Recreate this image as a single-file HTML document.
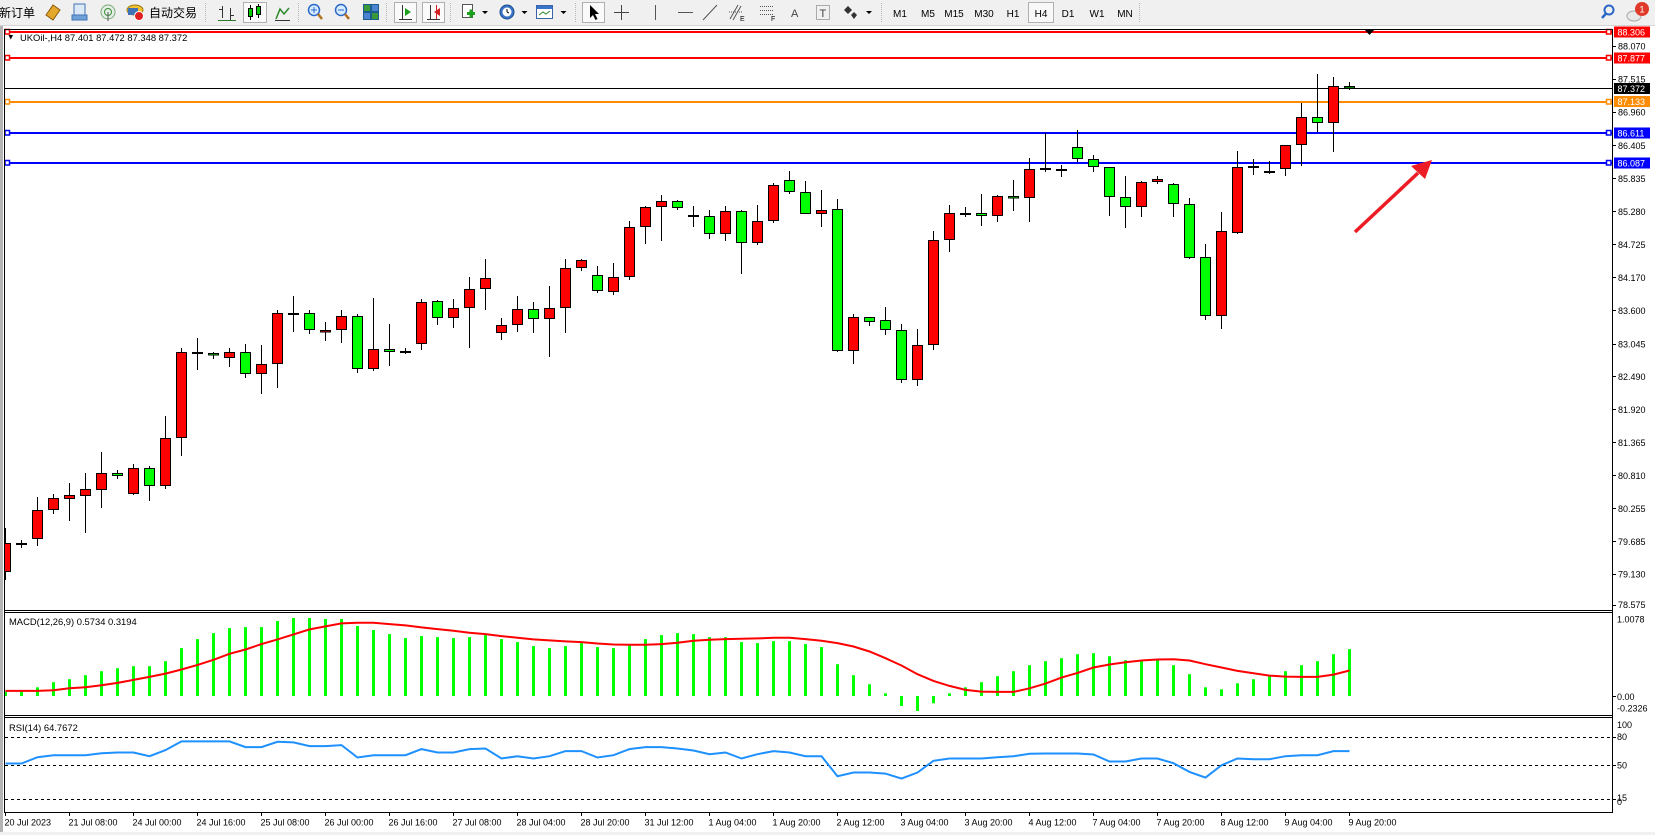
<!DOCTYPE html>
<html><head><meta charset="utf-8"><style>
html,body{margin:0;padding:0;background:#fff;overflow:hidden}
svg{display:block}
text{font-family:"Liberation Sans","Noto Sans CJK SC",sans-serif;font-size:9px;fill:#000}
.lbl{font-size:9.4px}
.w{stroke:#000;stroke-width:1}
.r{fill:#ff0000;stroke:#000;stroke-width:1}
.g{fill:#00ff00;stroke:#000;stroke-width:1}
.d{stroke:#000;stroke-width:2}
.tf{font-size:10px;text-anchor:middle}
.sep{stroke:#b8b8b8;stroke-width:1;stroke-dasharray:1 1}
</style></head><body>
<svg xmlns="http://www.w3.org/2000/svg" width="1655" height="835" viewBox="0 0 1655 835">
<defs><clipPath id="cp"><rect x="5" y="30" width="1607" height="580"/></clipPath></defs>
<rect width="1655" height="835" fill="#fff"/>
<!-- toolbar -->
<rect x="0" y="0" width="1655" height="25" fill="#f0f0f0"/>
<line x1="0" y1="25.5" x2="1655" y2="25.5" stroke="#d4d4d4"/>
<text x="-1" y="17" style="font-size:12px;font-family:'Noto Sans CJK SC',sans-serif">新订单</text>
<polygon points="46,15 53,5 60,10 53,20" fill="#e3a82a" stroke="#8a5a10" stroke-width="1"/>
<rect x="74" y="4" width="11" height="14" fill="#dce9f7" stroke="#3f73b5"/><rect x="72" y="15" width="15" height="5" fill="#6fa0d8" stroke="#3f73b5"/>
<circle cx="108" cy="12" r="7" fill="#e6efe6" stroke="#7aa87a"/><circle cx="108" cy="12" r="3.5" fill="none" stroke="#3b8d3b"/><line x1="108" y1="12" x2="108" y2="21" stroke="#555"/>
<ellipse cx="135" cy="10" rx="8" ry="5" fill="#f2c230" stroke="#9a7a10"/><rect x="128" y="8" width="10" height="7" fill="#3f73b5"/><circle cx="139" cy="16" r="4.5" fill="#e02020" stroke="#fff"/>
<text x="149" y="17" style="font-size:12px;font-family:'Noto Sans CJK SC',sans-serif">自动交易</text>
<line x1="205.5" y1="3" x2="205.5" y2="22" class="sep"/>
<g stroke="#333" stroke-width="1"><line x1="222.5" y1="6" x2="222.5" y2="18"/><line x1="219" y1="9.5" x2="222" y2="9.5"/><line x1="230.5" y1="8" x2="230.5" y2="20"/><line x1="231" y1="15.5" x2="234" y2="15.5"/><line x1="218" y1="20.5" x2="236" y2="20.5" stroke="#2a7a2a"/></g>
<rect x="243.5" y="2.5" width="23" height="20" fill="#fafafa" stroke="#b0b0b0"/>
<line x1="250.5" y1="5" x2="250.5" y2="20" stroke="#000"/><rect x="248.5" y="8.5" width="4" height="8" fill="#0c0" stroke="#000"/><line x1="258.5" y1="4" x2="258.5" y2="18" stroke="#000"/><rect x="256.5" y="6.5" width="4" height="8" fill="#0c0" stroke="#000"/>
<polyline points="276,19 280,9 284,14 289,8" fill="none" stroke="#2a8a2a" stroke-width="1.5"/><line x1="275" y1="20.5" x2="290" y2="20.5" stroke="#333"/>
<line x1="298.5" y1="3" x2="298.5" y2="22" class="sep"/>
<circle cx="314" cy="10" r="5.5" fill="#d8ecff" stroke="#2a68c8" stroke-width="1.5"/><line x1="311" y1="10" x2="317" y2="10" stroke="#2a68c8"/><line x1="314" y1="7" x2="314" y2="13" stroke="#2a68c8"/><line x1="318" y1="14" x2="322" y2="19" stroke="#b07020" stroke-width="2.5"/>
<circle cx="341" cy="10" r="5.5" fill="#d8ecff" stroke="#2a68c8" stroke-width="1.5"/><line x1="338" y1="10" x2="344" y2="10" stroke="#2a68c8"/><line x1="345" y1="14" x2="349" y2="19" stroke="#b07020" stroke-width="2.5"/>
<rect x="363.5" y="4.5" width="7" height="7" fill="#3a9a3a" stroke="#1c5c8c"/><rect x="371.5" y="4.5" width="7" height="7" fill="#4a84d0" stroke="#1c5c8c"/><rect x="363.5" y="12.5" width="7" height="7" fill="#4a84d0" stroke="#1c5c8c"/><rect x="371.5" y="12.5" width="7" height="7" fill="#3a9a3a" stroke="#1c5c8c"/>
<line x1="386.5" y1="3" x2="386.5" y2="22" class="sep"/>
<rect x="394.5" y="2.5" width="22" height="20" fill="#fafafa" stroke="#b0b0b0"/>
<line x1="402.5" y1="5" x2="402.5" y2="20" stroke="#333"/><line x1="399" y1="19.5" x2="412" y2="19.5" stroke="#333"/><polygon points="405,8 411,12 405,16" fill="#1aa01a"/>
<rect x="422.5" y="2.5" width="22" height="20" fill="#fafafa" stroke="#b0b0b0"/>
<line x1="430.5" y1="5" x2="430.5" y2="20" stroke="#333"/><line x1="427" y1="19.5" x2="440" y2="19.5" stroke="#333"/><polygon points="440,8 434,12 440,16" fill="#d02020"/><line x1="436.5" y1="5" x2="436.5" y2="19" stroke="#d02020"/>
<line x1="450.5" y1="3" x2="450.5" y2="22" class="sep"/>
<rect x="462.5" y="4.5" width="10" height="13" fill="#fff" stroke="#555"/><rect x="467" y="12" width="8" height="3" fill="#1aa01a"/><rect x="469.5" y="9.5" width="3" height="8" fill="#1aa01a"/>
<polygon points="482,11 488,11 485,14" fill="#000"/>
<circle cx="507" cy="12" r="7" fill="#3a74c8" stroke="#1c4c8c"/><circle cx="507" cy="12" r="4.5" fill="#fff"/><line x1="507" y1="12" x2="507" y2="9" stroke="#000"/><line x1="507" y1="12" x2="509" y2="13" stroke="#000"/>
<polygon points="521.5,11 527.5,11 524.5,14" fill="#000"/>
<rect x="536.5" y="5.5" width="16" height="13" fill="#fff" stroke="#3a64a8"/><rect x="537" y="6" width="15" height="3" fill="#3a74c8"/><polyline points="539,15 543,12 546,14 550,11" fill="none" stroke="#2a8a2a"/>
<polygon points="560.5,11 566.5,11 563.5,14" fill="#000"/>
<line x1="575.5" y1="3" x2="575.5" y2="22" class="sep"/>
<rect x="582.5" y="2.5" width="22" height="20" fill="#fafafa" stroke="#b0b0b0"/>
<polygon points="590,5 590,18 593,15 595.5,20 597.5,19 595,14 599,14" fill="#000"/>
<g stroke="#444"><line x1="621.5" y1="5" x2="621.5" y2="20"/><line x1="614" y1="12.5" x2="629" y2="12.5"/></g>
<line x1="655.5" y1="5" x2="655.5" y2="20" stroke="#555"/>
<line x1="678" y1="12.5" x2="693" y2="12.5" stroke="#555"/>
<line x1="703" y1="20" x2="717" y2="5" stroke="#555"/>
<g stroke="#555"><line x1="730" y1="19" x2="738" y2="5"/><line x1="733" y1="20" x2="741" y2="6"/><line x1="729" y1="12" x2="743" y2="12" stroke-dasharray="1 1"/></g><text x="740" y="21" style="font-size:7px">E</text>
<g stroke="#555" stroke-dasharray="1 1"><line x1="760" y1="6.5" x2="774" y2="6.5"/><line x1="760" y1="10.5" x2="774" y2="10.5"/><line x1="760" y1="14.5" x2="774" y2="14.5"/></g><text x="771" y="21" style="font-size:7px">F</text>
<text x="791" y="17" style="font-size:11px;fill:#444">A</text>
<rect x="816.5" y="5.5" width="13" height="14" fill="none" stroke="#666" stroke-dasharray="1 1"/><text x="819.5" y="17" style="font-size:11px;fill:#444">T</text>
<polygon points="848,6 852,10 848,14 844,10" fill="#333"/><polygon points="854,12 857,15 854,19 851,15" fill="#333"/>
<polygon points="866,11 872,11 869,14" fill="#000"/>
<line x1="881.5" y1="3" x2="881.5" y2="22" class="sep"/>
<text class="tf" x="900" y="17">M1</text><text class="tf" x="928" y="17">M5</text><text class="tf" x="954" y="17">M15</text><text class="tf" x="984" y="17">M30</text><text class="tf" x="1013" y="17">H1</text>
<rect x="1028.5" y="2.5" width="25" height="20" fill="#f8f8f8" stroke="#b0b0b0"/>
<text class="tf" x="1041" y="17">H4</text><text class="tf" x="1068" y="17">D1</text><text class="tf" x="1097" y="17">W1</text><text class="tf" x="1125" y="17">MN</text>
<line x1="1139.5" y1="3" x2="1139.5" y2="22" class="sep"/>
<circle cx="1609" cy="10" r="4.5" fill="none" stroke="#2a68c8" stroke-width="2"/><line x1="1606" y1="13.5" x2="1602" y2="18" stroke="#2a68c8" stroke-width="2.5"/>
<ellipse cx="1634" cy="16" rx="7" ry="5" fill="#e8e8e8" stroke="#aaa"/>
<circle cx="1642" cy="9" r="7" fill="#e03a2a"/><text x="1642" y="12.5" style="font-size:9px;fill:#fff;text-anchor:middle">1</text>

<!-- window frame -->
<rect x="0" y="26" width="3" height="809" fill="#b4b4b4"/>
<rect x="0" y="832" width="1655" height="3" fill="#f0f0f0"/>

<!-- horizontal levels -->
<line x1="4" y1="32" x2="1612" y2="32" stroke="#ff0000" stroke-width="2"/>
<line x1="4" y1="58" x2="1612" y2="58" stroke="#ff0000" stroke-width="2"/>
<line x1="4" y1="88.5" x2="1612" y2="88.5" stroke="#000" stroke-width="1"/>
<line x1="4" y1="102" x2="1612" y2="102" stroke="#ff8c00" stroke-width="2"/>
<line x1="4" y1="133" x2="1612" y2="133" stroke="#0000ff" stroke-width="2"/>
<line x1="4" y1="163" x2="1612" y2="163" stroke="#0000ff" stroke-width="2"/>
<g fill="#fff" stroke-width="1.5">
<rect x="5" y="29.5" width="4.5" height="4.5" stroke="#ff0000"/><rect x="1606.5" y="29.5" width="4.5" height="4.5" stroke="#ff0000"/>
<rect x="5" y="55.5" width="4.5" height="4.5" stroke="#ff0000"/><rect x="1606.5" y="55.5" width="4.5" height="4.5" stroke="#ff0000"/>
<rect x="5" y="99.5" width="4.5" height="4.5" stroke="#ff8c00"/><rect x="1606.5" y="99.5" width="4.5" height="4.5" stroke="#ff8c00"/>
<rect x="5" y="130.5" width="4.5" height="4.5" stroke="#0000ff"/><rect x="1606.5" y="130.5" width="4.5" height="4.5" stroke="#0000ff"/>
<rect x="5" y="160.5" width="4.5" height="4.5" stroke="#0000ff"/><rect x="1606.5" y="160.5" width="4.5" height="4.5" stroke="#0000ff"/>
</g>

<!-- candles -->
<g clip-path="url(#cp)">
<line x1="5.5" y1="528" x2="5.5" y2="580" class="w"/><rect x="0.5" y="543.5" width="10" height="28" class="r"/>
<line x1="21.5" y1="540" x2="21.5" y2="548" class="w"/><line x1="16" y1="544" x2="27" y2="544" class="d"/>
<line x1="37.5" y1="497" x2="37.5" y2="546" class="w"/><rect x="32.5" y="510.5" width="10" height="28" class="r"/>
<line x1="53.5" y1="494" x2="53.5" y2="514" class="w"/><rect x="48.5" y="498.5" width="10" height="11" class="r"/>
<line x1="69.5" y1="483" x2="69.5" y2="521" class="w"/><rect x="64.5" y="495.5" width="10" height="3" class="r"/>
<line x1="85.5" y1="473" x2="85.5" y2="533" class="w"/><rect x="80.5" y="489.5" width="10" height="6" class="r"/>
<line x1="101.5" y1="452" x2="101.5" y2="508" class="w"/><rect x="96.5" y="473.5" width="10" height="16" class="r"/>
<line x1="117.5" y1="470" x2="117.5" y2="479" class="w"/><rect x="112.5" y="473.5" width="10" height="2" class="g"/>
<line x1="133.5" y1="464" x2="133.5" y2="495" class="w"/><rect x="128.5" y="468.5" width="10" height="25" class="r"/>
<line x1="149.5" y1="466" x2="149.5" y2="501" class="w"/><rect x="144.5" y="468.5" width="10" height="17" class="g"/>
<line x1="165.5" y1="416" x2="165.5" y2="489" class="w"/><rect x="160.5" y="438.5" width="10" height="47" class="r"/>
<line x1="181.5" y1="348" x2="181.5" y2="456" class="w"/><rect x="176.5" y="352.5" width="10" height="85" class="r"/>
<line x1="197.5" y1="338" x2="197.5" y2="370" class="w"/><line x1="192" y1="353" x2="203" y2="353" class="d"/>
<line x1="213.5" y1="352" x2="213.5" y2="359" class="w"/><rect x="208.5" y="353.5" width="10" height="1.5" class="g"/>
<line x1="229.5" y1="348" x2="229.5" y2="367" class="w"/><rect x="224.5" y="352.5" width="10" height="5" class="r"/>
<line x1="245.5" y1="344" x2="245.5" y2="378" class="w"/><rect x="240.5" y="352.5" width="10" height="21" class="g"/>
<line x1="261.5" y1="345" x2="261.5" y2="394" class="w"/><rect x="256.5" y="364.5" width="10" height="9" class="r"/>
<line x1="277.5" y1="310" x2="277.5" y2="388" class="w"/><rect x="272.5" y="313.5" width="10" height="50" class="r"/>
<line x1="293.5" y1="296" x2="293.5" y2="332" class="w"/><line x1="288" y1="314" x2="299" y2="314" class="d"/>
<line x1="309.5" y1="310" x2="309.5" y2="334" class="w"/><rect x="304.5" y="313.5" width="10" height="16" class="g"/>
<line x1="325.5" y1="322" x2="325.5" y2="341" class="w"/><rect x="320.5" y="330.5" width="10" height="1.5" class="r"/>
<line x1="341.5" y1="310" x2="341.5" y2="343" class="w"/><rect x="336.5" y="316.5" width="10" height="13" class="r"/>
<line x1="357.5" y1="314" x2="357.5" y2="373" class="w"/><rect x="352.5" y="316.5" width="10" height="52" class="g"/>
<line x1="373.5" y1="298" x2="373.5" y2="371" class="w"/><rect x="368.5" y="349.5" width="10" height="19" class="r"/>
<line x1="389.5" y1="324" x2="389.5" y2="366" class="w"/><rect x="384.5" y="349.5" width="10" height="2" class="g"/>
<line x1="405.5" y1="348" x2="405.5" y2="354" class="w"/><line x1="400" y1="352" x2="411" y2="352" class="d"/>
<line x1="421.5" y1="299" x2="421.5" y2="350" class="w"/><rect x="416.5" y="302.5" width="10" height="41" class="r"/>
<line x1="437.5" y1="300" x2="437.5" y2="325" class="w"/><rect x="432.5" y="301.5" width="10" height="16" class="g"/>
<line x1="453.5" y1="299" x2="453.5" y2="328" class="w"/><rect x="448.5" y="308.5" width="10" height="9" class="r"/>
<line x1="469.5" y1="277" x2="469.5" y2="348" class="w"/><rect x="464.5" y="289.5" width="10" height="18" class="r"/>
<line x1="485.5" y1="259" x2="485.5" y2="310" class="w"/><rect x="480.5" y="278.5" width="10" height="10" class="r"/>
<line x1="501.5" y1="318" x2="501.5" y2="340" class="w"/><rect x="496.5" y="325.5" width="10" height="7" class="r"/>
<line x1="517.5" y1="296" x2="517.5" y2="332" class="w"/><rect x="512.5" y="309.5" width="10" height="15" class="r"/>
<line x1="533.5" y1="302" x2="533.5" y2="333" class="w"/><rect x="528.5" y="309.5" width="10" height="9" class="g"/>
<line x1="549.5" y1="286" x2="549.5" y2="357" class="w"/><rect x="544.5" y="308.5" width="10" height="10" class="r"/>
<line x1="565.5" y1="259" x2="565.5" y2="333" class="w"/><rect x="560.5" y="268.5" width="10" height="39" class="r"/>
<line x1="581.5" y1="259" x2="581.5" y2="271" class="w"/><rect x="576.5" y="260.5" width="10" height="7" class="r"/>
<line x1="597.5" y1="266" x2="597.5" y2="293" class="w"/><rect x="592.5" y="275.5" width="10" height="15" class="g"/>
<line x1="613.5" y1="263" x2="613.5" y2="295" class="w"/><rect x="608.5" y="277.5" width="10" height="14" class="r"/>
<line x1="629.5" y1="221" x2="629.5" y2="280" class="w"/><rect x="624.5" y="227.5" width="10" height="49" class="r"/>
<line x1="645.5" y1="206" x2="645.5" y2="244" class="w"/><rect x="640.5" y="207.5" width="10" height="19" class="r"/>
<line x1="661.5" y1="195" x2="661.5" y2="241" class="w"/><rect x="656.5" y="201.5" width="10" height="5" class="r"/>
<line x1="677.5" y1="200" x2="677.5" y2="210" class="w"/><rect x="672.5" y="201.5" width="10" height="6" class="g"/>
<line x1="693.5" y1="206" x2="693.5" y2="227" class="w"/><line x1="688" y1="216" x2="699" y2="216" class="d"/>
<line x1="709.5" y1="210" x2="709.5" y2="239" class="w"/><rect x="704.5" y="216.5" width="10" height="17" class="g"/>
<line x1="725.5" y1="206" x2="725.5" y2="241" class="w"/><rect x="720.5" y="211.5" width="10" height="22" class="r"/>
<line x1="741.5" y1="210" x2="741.5" y2="274" class="w"/><rect x="736.5" y="211.5" width="10" height="31" class="g"/>
<line x1="757.5" y1="205" x2="757.5" y2="245" class="w"/><rect x="752.5" y="221.5" width="10" height="21" class="r"/>
<line x1="773.5" y1="183" x2="773.5" y2="223" class="w"/><rect x="768.5" y="185.5" width="10" height="35" class="r"/>
<line x1="789.5" y1="171" x2="789.5" y2="194" class="w"/><rect x="784.5" y="180.5" width="10" height="11" class="g"/>
<line x1="805.5" y1="181" x2="805.5" y2="214" class="w"/><rect x="800.5" y="192.5" width="10" height="21" class="g"/>
<line x1="821.5" y1="190" x2="821.5" y2="227" class="w"/><rect x="816.5" y="210.5" width="10" height="3" class="r"/>
<line x1="837.5" y1="199" x2="837.5" y2="352" class="w"/><rect x="832.5" y="209.5" width="10" height="141" class="g"/>
<line x1="853.5" y1="314" x2="853.5" y2="364" class="w"/><rect x="848.5" y="317.5" width="10" height="33" class="r"/>
<line x1="869.5" y1="317" x2="869.5" y2="326" class="w"/><rect x="864.5" y="317.5" width="10" height="4" class="g"/>
<line x1="885.5" y1="307" x2="885.5" y2="335" class="w"/><rect x="880.5" y="320.5" width="10" height="9" class="g"/>
<line x1="901.5" y1="324" x2="901.5" y2="383" class="w"/><rect x="896.5" y="330.5" width="10" height="49" class="g"/>
<line x1="917.5" y1="329" x2="917.5" y2="386" class="w"/><rect x="912.5" y="345.5" width="10" height="34" class="r"/>
<line x1="933.5" y1="231" x2="933.5" y2="350" class="w"/><rect x="928.5" y="240.5" width="10" height="104" class="r"/>
<line x1="949.5" y1="205" x2="949.5" y2="252" class="w"/><rect x="944.5" y="213.5" width="10" height="26" class="r"/>
<line x1="965.5" y1="207" x2="965.5" y2="217" class="w"/><line x1="960" y1="214" x2="971" y2="214" class="d"/>
<line x1="981.5" y1="194" x2="981.5" y2="226" class="w"/><rect x="976.5" y="213.5" width="10" height="2" class="g"/>
<line x1="997.5" y1="195" x2="997.5" y2="222" class="w"/><rect x="992.5" y="196.5" width="10" height="19" class="r"/>
<line x1="1013.5" y1="180" x2="1013.5" y2="211" class="w"/><rect x="1008.5" y="196.5" width="10" height="1.5" class="g"/>
<line x1="1029.5" y1="158" x2="1029.5" y2="222" class="w"/><rect x="1024.5" y="169.5" width="10" height="28" class="r"/>
<line x1="1045.5" y1="133" x2="1045.5" y2="172" class="w"/><line x1="1040" y1="169" x2="1051" y2="169" class="d"/>
<line x1="1061.5" y1="165" x2="1061.5" y2="177" class="w"/><line x1="1056" y1="170" x2="1067" y2="170" class="d"/>
<line x1="1077.5" y1="130" x2="1077.5" y2="162" class="w"/><rect x="1072.5" y="147.5" width="10" height="11" class="g"/>
<line x1="1093.5" y1="155" x2="1093.5" y2="172" class="w"/><rect x="1088.5" y="159.5" width="10" height="7" class="g"/>
<line x1="1109.5" y1="167" x2="1109.5" y2="216" class="w"/><rect x="1104.5" y="167.5" width="10" height="29" class="g"/>
<line x1="1125.5" y1="176" x2="1125.5" y2="228" class="w"/><rect x="1120.5" y="197.5" width="10" height="9" class="g"/>
<line x1="1141.5" y1="181" x2="1141.5" y2="217" class="w"/><rect x="1136.5" y="182.5" width="10" height="24" class="r"/>
<line x1="1157.5" y1="176" x2="1157.5" y2="184" class="w"/><rect x="1152.5" y="179.5" width="10" height="2" class="r"/>
<line x1="1173.5" y1="183" x2="1173.5" y2="217" class="w"/><rect x="1168.5" y="184.5" width="10" height="19" class="g"/>
<line x1="1189.5" y1="198" x2="1189.5" y2="259" class="w"/><rect x="1184.5" y="204.5" width="10" height="53" class="g"/>
<line x1="1205.5" y1="244" x2="1205.5" y2="320" class="w"/><rect x="1200.5" y="257.5" width="10" height="58" class="g"/>
<line x1="1221.5" y1="212" x2="1221.5" y2="329" class="w"/><rect x="1216.5" y="231.5" width="10" height="84" class="r"/>
<line x1="1237.5" y1="151" x2="1237.5" y2="234" class="w"/><rect x="1232.5" y="167.5" width="10" height="65" class="r"/>
<line x1="1253.5" y1="159" x2="1253.5" y2="175" class="w"/><line x1="1248" y1="167" x2="1259" y2="167" class="d"/>
<line x1="1269.5" y1="161" x2="1269.5" y2="174" class="w"/><line x1="1264" y1="172" x2="1275" y2="172" class="d"/>
<line x1="1285.5" y1="145" x2="1285.5" y2="176" class="w"/><rect x="1280.5" y="145.5" width="10" height="23" class="r"/>
<line x1="1301.5" y1="103" x2="1301.5" y2="166" class="w"/><rect x="1296.5" y="117.5" width="10" height="27" class="r"/>
<line x1="1317.5" y1="74" x2="1317.5" y2="132" class="w"/><rect x="1312.5" y="117.5" width="10" height="5" class="g"/>
<line x1="1333.5" y1="77" x2="1333.5" y2="152" class="w"/><rect x="1328.5" y="86.5" width="10" height="36" class="r"/>
<line x1="1349.5" y1="82" x2="1349.5" y2="90" class="w"/><rect x="1344.5" y="86.5" width="10" height="1.5" class="g"/>
</g>

<!-- arrow -->
<line x1="1355" y1="232" x2="1418" y2="173" stroke="#ed1c24" stroke-width="3.5"/>
<polygon points="1432,160 1411,166 1425,179" fill="#ed1c24"/>
<!-- shift marker -->
<polygon points="1364,29 1375,29 1369.5,35" fill="#000"/>

<!-- header -->
<polygon points="8.5,35 13,35 10.75,39.5" fill="#000"/>
<text class="lbl" x="20" y="41">UKOil-,H4  87.401 87.472 87.348 87.372</text>

<!-- MACD -->
<g fill="#00ff00">
<rect x="4" y="691.6" width="3" height="4.4"/><rect x="20" y="691.6" width="3" height="4.4"/><rect x="36" y="687.3" width="3" height="8.7"/><rect x="52" y="682.2" width="3" height="13.8"/><rect x="68" y="679.2" width="3" height="16.8"/><rect x="84" y="675.2" width="3" height="20.8"/><rect x="100" y="671.2" width="3" height="24.8"/><rect x="116" y="668.2" width="3" height="27.8"/><rect x="132" y="666.2" width="3" height="29.8"/><rect x="148" y="666.2" width="3" height="29.8"/><rect x="164" y="661.2" width="3" height="34.8"/><rect x="180" y="648.1" width="3" height="47.9"/><rect x="196" y="639.1" width="3" height="56.9"/><rect x="212" y="633.1" width="3" height="62.9"/><rect x="228" y="628.1" width="3" height="67.9"/><rect x="244" y="627.1" width="3" height="68.9"/><rect x="260" y="627.1" width="3" height="68.9"/><rect x="276" y="621" width="3" height="75"/><rect x="292" y="618" width="3" height="78"/><rect x="308" y="618" width="3" height="78"/><rect x="324" y="619" width="3" height="77"/><rect x="340" y="619" width="3" height="77"/><rect x="356" y="626" width="3" height="70"/><rect x="372" y="630" width="3" height="66"/><rect x="388" y="634.1" width="3" height="61.9"/><rect x="404" y="638.1" width="3" height="57.9"/><rect x="420" y="636.1" width="3" height="59.9"/><rect x="436" y="637.1" width="3" height="58.9"/><rect x="452" y="638.1" width="3" height="57.9"/><rect x="468" y="637.1" width="3" height="58.9"/><rect x="484" y="635.1" width="3" height="60.9"/><rect x="500" y="639.1" width="3" height="56.9"/><rect x="516" y="642.1" width="3" height="53.9"/><rect x="532" y="646.1" width="3" height="49.9"/><rect x="548" y="648.1" width="3" height="47.9"/><rect x="564" y="646.1" width="3" height="49.9"/><rect x="580" y="643.1" width="3" height="52.9"/><rect x="596" y="647.1" width="3" height="48.9"/><rect x="612" y="648.1" width="3" height="47.9"/><rect x="628" y="645.1" width="3" height="50.9"/><rect x="644" y="639.1" width="3" height="56.9"/><rect x="660" y="635.1" width="3" height="60.9"/><rect x="676" y="633.1" width="3" height="62.9"/><rect x="692" y="634.1" width="3" height="61.9"/><rect x="708" y="637.1" width="3" height="58.9"/><rect x="724" y="637.1" width="3" height="58.9"/><rect x="740" y="642.1" width="3" height="53.9"/><rect x="756" y="643.1" width="3" height="52.9"/><rect x="772" y="641.1" width="3" height="54.9"/><rect x="788" y="641.1" width="3" height="54.9"/><rect x="804" y="644.1" width="3" height="51.9"/><rect x="820" y="647.1" width="3" height="48.9"/><rect x="836" y="664.2" width="3" height="31.8"/><rect x="852" y="675.2" width="3" height="20.8"/><rect x="868" y="684.3" width="3" height="11.7"/><rect x="884" y="693.3" width="3" height="2.7"/><rect x="900" y="696" width="3" height="10"/><rect x="916" y="696" width="3" height="15"/><rect x="932" y="696" width="3" height="7.3"/><rect x="948" y="693.3" width="3" height="2.7"/><rect x="964" y="687.3" width="3" height="8.7"/><rect x="980" y="682.2" width="3" height="13.8"/><rect x="996" y="676.2" width="3" height="19.8"/><rect x="1012" y="671.2" width="3" height="24.8"/><rect x="1028" y="665.2" width="3" height="30.8"/><rect x="1044" y="661.2" width="3" height="34.8"/><rect x="1060" y="658.2" width="3" height="37.8"/><rect x="1076" y="654.2" width="3" height="41.8"/><rect x="1092" y="653.2" width="3" height="42.8"/><rect x="1108" y="656.2" width="3" height="39.8"/><rect x="1124" y="660.2" width="3" height="35.8"/><rect x="1140" y="661.2" width="3" height="34.8"/><rect x="1156" y="660.2" width="3" height="35.8"/><rect x="1172" y="665.2" width="3" height="30.8"/><rect x="1188" y="674.2" width="3" height="21.8"/><rect x="1204" y="687.3" width="3" height="8.7"/><rect x="1220" y="689.3" width="3" height="6.7"/><rect x="1236" y="683.3" width="3" height="12.7"/><rect x="1252" y="679.2" width="3" height="16.8"/><rect x="1268" y="675.2" width="3" height="20.8"/><rect x="1284" y="671.2" width="3" height="24.8"/><rect x="1300" y="665.2" width="3" height="30.8"/><rect x="1316" y="661.2" width="3" height="34.8"/><rect x="1332" y="654.2" width="3" height="41.8"/><rect x="1348" y="649.1" width="3" height="46.9"/>
</g>
<polyline fill="none" stroke="#ff0000" stroke-width="2" points="5.5,690.9 21.5,690.9 37.5,690.9 53.5,690.3 69.5,688.3 85.5,687.3 101.5,685.3 117.5,682.9 133.5,679.9 149.5,676.9 165.5,673.6 181.5,669.5 197.5,664.9 213.5,659.8 229.5,653.8 245.5,649.5 261.5,644.1 277.5,639.4 293.5,634.4 309.5,629.4 325.5,626.4 341.5,623.4 357.5,622.7 373.5,622.7 389.5,624.1 405.5,625.4 421.5,627.4 437.5,629.1 453.5,630.7 469.5,632.7 485.5,634.1 501.5,636.1 517.5,637.8 533.5,639.4 549.5,640.4 565.5,641.4 581.5,642.1 597.5,643.5 613.5,644.5 629.5,644.8 645.5,644.8 661.5,644.1 677.5,642.8 693.5,640.7 709.5,639.8 725.5,639.1 741.5,638.8 757.5,638.4 773.5,637.8 789.5,637.8 805.5,639.1 821.5,640.8 837.5,643.1 853.5,646.5 869.5,651.5 885.5,658.2 901.5,665.5 917.5,674.2 933.5,680.9 949.5,685.9 965.5,689.9 981.5,691.6 997.5,691.9 1013.5,691.9 1029.5,688.3 1045.5,683.6 1061.5,677.6 1077.5,672.9 1093.5,667.5 1109.5,664.5 1125.5,662.2 1141.5,660.5 1157.5,659.5 1173.5,659.2 1189.5,660.5 1205.5,664.2 1221.5,667.5 1237.5,670.9 1253.5,673.2 1269.5,675.6 1285.5,676.6 1301.5,676.9 1317.5,676.9 1333.5,674.6 1349.5,670.5"/>
<text class="lbl" x="9" y="625">MACD(12,26,9) 0.5734 0.3194</text>

<!-- RSI -->
<g stroke="#000" stroke-width="1" stroke-dasharray="3 3">
<line x1="5" y1="737.5" x2="1612" y2="737.5"/><line x1="5" y1="765.5" x2="1612" y2="765.5"/><line x1="5" y1="799.5" x2="1612" y2="799.5"/>
</g>
<polyline fill="none" stroke="#1e90ff" stroke-width="2" points="5.5,763.5 21.5,763.5 37.5,757.2 53.5,755.2 69.5,755.2 85.5,755.2 101.5,753.2 117.5,752.5 133.5,752.5 149.5,756.2 165.5,750.1 181.5,741.4 197.5,741.4 213.5,741.4 229.5,741.4 245.5,747.1 261.5,747.1 277.5,741.8 293.5,742.4 309.5,746.1 325.5,746.1 341.5,745.1 357.5,757.5 373.5,755.2 389.5,755.2 405.5,755.2 421.5,749.1 437.5,752.5 453.5,752.5 469.5,749.1 485.5,748.5 501.5,758.5 517.5,756.2 533.5,758.5 549.5,756.2 565.5,751.1 581.5,751.1 597.5,757.5 613.5,755.2 629.5,749.1 645.5,747.1 661.5,747.1 677.5,748.5 693.5,750.5 709.5,754.2 725.5,752.5 741.5,758.5 757.5,754.2 773.5,751.1 789.5,752.5 805.5,756.2 821.5,756.2 837.5,776.2 853.5,772.5 869.5,772.5 885.5,773.6 901.5,778.6 917.5,772.5 933.5,760.8 949.5,758.5 965.5,758.5 981.5,758.5 997.5,757.2 1013.5,756.2 1029.5,753.8 1045.5,753.5 1061.5,753.5 1077.5,753.5 1093.5,754.5 1109.5,761.5 1125.5,761.5 1141.5,758.5 1157.5,758.5 1173.5,763.2 1189.5,771.9 1205.5,777.6 1221.5,765.2 1237.5,758.5 1253.5,759.2 1269.5,759.2 1285.5,756.2 1301.5,755.2 1317.5,755.2 1333.5,751.1 1349.5,751.1"/>
<text class="lbl" x="9" y="731">RSI(14) 64.7672</text>

<!-- frames -->
<g stroke="#000" stroke-width="1">
<line x1="4" y1="29.5" x2="1613" y2="29.5"/>
<line x1="4.5" y1="29" x2="4.5" y2="813"/>
<line x1="1612.5" y1="29" x2="1612.5" y2="813"/>
<line x1="4" y1="610.5" x2="1613" y2="610.5"/>
<line x1="4" y1="612.5" x2="1613" y2="612.5"/>
<line x1="4" y1="715.5" x2="1613" y2="715.5"/>
<line x1="4" y1="717.5" x2="1613" y2="717.5"/>
<line x1="4" y1="812.5" x2="1613" y2="812.5"/>
</g>

<!-- price axis ticks -->
<g stroke="#000" stroke-width="1">
<line x1="1612" y1="46.5" x2="1616" y2="46.5"/><line x1="1612" y1="79.5" x2="1616" y2="79.5"/><line x1="1612" y1="112.5" x2="1616" y2="112.5"/><line x1="1612" y1="145.5" x2="1616" y2="145.5"/><line x1="1612" y1="178.5" x2="1616" y2="178.5"/><line x1="1612" y1="211.5" x2="1616" y2="211.5"/><line x1="1612" y1="244.5" x2="1616" y2="244.5"/><line x1="1612" y1="277.5" x2="1616" y2="277.5"/><line x1="1612" y1="310.5" x2="1616" y2="310.5"/><line x1="1612" y1="344.5" x2="1616" y2="344.5"/><line x1="1612" y1="376.5" x2="1616" y2="376.5"/><line x1="1612" y1="409.5" x2="1616" y2="409.5"/><line x1="1612" y1="442.5" x2="1616" y2="442.5"/><line x1="1612" y1="475.5" x2="1616" y2="475.5"/><line x1="1612" y1="508.5" x2="1616" y2="508.5"/><line x1="1612" y1="541.5" x2="1616" y2="541.5"/><line x1="1612" y1="574.5" x2="1616" y2="574.5"/><line x1="1612" y1="605.5" x2="1616" y2="605.5"/>
<line x1="1612" y1="696.5" x2="1616" y2="696.5"/>
<line x1="1612" y1="737.5" x2="1616" y2="737.5"/><line x1="1612" y1="765.5" x2="1616" y2="765.5"/><line x1="1612" y1="799.5" x2="1616" y2="799.5"/>
</g>
<g>
<text x="1618" y="49.5">88.070</text><text x="1618" y="82.5">87.515</text><text x="1618" y="115.5">86.960</text><text x="1618" y="149">86.405</text><text x="1618" y="182">85.835</text><text x="1618" y="215">85.280</text><text x="1618" y="248">84.725</text><text x="1618" y="281">84.170</text><text x="1618" y="314">83.600</text><text x="1618" y="347.5">83.045</text><text x="1618" y="380">82.490</text><text x="1618" y="413">81.920</text><text x="1618" y="446">81.365</text><text x="1618" y="479">80.810</text><text x="1618" y="512">80.255</text><text x="1618" y="545">79.685</text><text x="1618" y="577.5">79.130</text><text x="1618" y="608">78.575</text>
<text x="1617" y="622.5">1.0078</text><text x="1617" y="700">0.00</text><text x="1617" y="711.5">-0.2326</text>
<text x="1617" y="728">100</text><text x="1617" y="740">80</text><text x="1617" y="768.5">50</text><text x="1617" y="801">15</text><text x="1617" y="805">0</text>
</g>
<!-- price tags -->
<rect x="1614" y="26.5" width="36" height="11" fill="#ff0000"/><text x="1617.5" y="35.5" style="fill:#fff">88.306</text>
<rect x="1614" y="52.5" width="36" height="11" fill="#ff0000"/><text x="1617.5" y="61.5" style="fill:#fff">87.877</text>
<rect x="1614" y="83" width="36" height="11" fill="#000"/><text x="1617.5" y="92" style="fill:#fff">87.372</text>
<rect x="1614" y="96" width="36" height="11" fill="#ff8c00"/><text x="1617.5" y="105" style="fill:#fff">87.133</text>
<rect x="1614" y="127.5" width="36" height="11" fill="#0000ff"/><text x="1617.5" y="136.5" style="fill:#fff">86.611</text>
<rect x="1614" y="157.5" width="36" height="11" fill="#0000ff"/><text x="1617.5" y="166.5" style="fill:#fff">86.087</text>

<!-- time axis -->
<g stroke="#000" stroke-width="1">
<line x1="5.5" y1="812" x2="5.5" y2="816"/><line x1="69.5" y1="812" x2="69.5" y2="816"/><line x1="133.5" y1="812" x2="133.5" y2="816"/><line x1="197.5" y1="812" x2="197.5" y2="816"/><line x1="261.5" y1="812" x2="261.5" y2="816"/><line x1="325.5" y1="812" x2="325.5" y2="816"/><line x1="389.5" y1="812" x2="389.5" y2="816"/><line x1="453.5" y1="812" x2="453.5" y2="816"/><line x1="517.5" y1="812" x2="517.5" y2="816"/><line x1="581.5" y1="812" x2="581.5" y2="816"/><line x1="645.5" y1="812" x2="645.5" y2="816"/><line x1="709.5" y1="812" x2="709.5" y2="816"/><line x1="773.5" y1="812" x2="773.5" y2="816"/><line x1="837.5" y1="812" x2="837.5" y2="816"/><line x1="901.5" y1="812" x2="901.5" y2="816"/><line x1="965.5" y1="812" x2="965.5" y2="816"/><line x1="1029.5" y1="812" x2="1029.5" y2="816"/><line x1="1093.5" y1="812" x2="1093.5" y2="816"/><line x1="1157.5" y1="812" x2="1157.5" y2="816"/><line x1="1221.5" y1="812" x2="1221.5" y2="816"/><line x1="1285.5" y1="812" x2="1285.5" y2="816"/><line x1="1349.5" y1="812" x2="1349.5" y2="816"/>
</g>
<g>
<text x="4.5" y="825.5">20 Jul 2023</text><text x="68.5" y="825.5">21 Jul 08:00</text><text x="132.5" y="825.5">24 Jul 00:00</text><text x="196.5" y="825.5">24 Jul 16:00</text><text x="260.5" y="825.5">25 Jul 08:00</text><text x="324.5" y="825.5">26 Jul 00:00</text><text x="388.5" y="825.5">26 Jul 16:00</text><text x="452.5" y="825.5">27 Jul 08:00</text><text x="516.5" y="825.5">28 Jul 04:00</text><text x="580.5" y="825.5">28 Jul 20:00</text><text x="644.5" y="825.5">31 Jul 12:00</text><text x="708.5" y="825.5">1 Aug 04:00</text><text x="772.5" y="825.5">1 Aug 20:00</text><text x="836.5" y="825.5">2 Aug 12:00</text><text x="900.5" y="825.5">3 Aug 04:00</text><text x="964.5" y="825.5">3 Aug 20:00</text><text x="1028.5" y="825.5">4 Aug 12:00</text><text x="1092.5" y="825.5">7 Aug 04:00</text><text x="1156.5" y="825.5">7 Aug 20:00</text><text x="1220.5" y="825.5">8 Aug 12:00</text><text x="1284.5" y="825.5">9 Aug 04:00</text><text x="1348.5" y="825.5">9 Aug 20:00</text>
</g>
</svg>
</body></html>
